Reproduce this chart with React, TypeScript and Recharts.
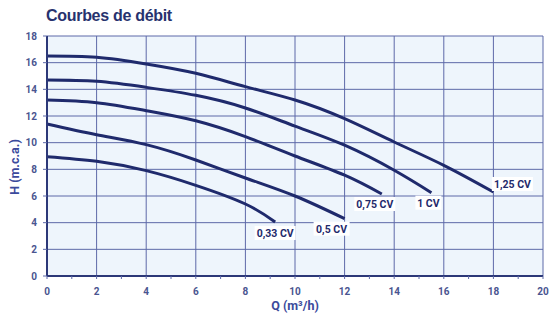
import {
  CartesianGrid,
  Line,
  LineChart,
  ReferenceLine,
  XAxis,
  YAxis,
} from "recharts";

// pump flow curves: Q (m3/h) -> H (m.c.a.)
const Q_033 = [0, 2, 4, 6, 8, 9.2];
const H_033 = [8.95, 8.6, 7.9, 6.8, 5.4, 4.05];
const Q_05 = [0, 2, 4, 6, 8, 10, 12];
const H_05 = [11.4, 10.6, 9.85, 8.7, 7.35, 6.0, 4.3];
const Q_075 = [0, 2, 4, 6, 8, 10, 12, 13.5];
const H_075 = [13.2, 13.0, 12.4, 11.64, 10.45, 9.0, 7.56, 6.15];
const Q_1 = [0, 2, 4, 6, 8, 10, 12, 14, 15.5];
const H_1 = [14.7, 14.6, 14.15, 13.55, 12.6, 11.24, 9.81, 7.93, 6.25];
const Q_125 = [0, 2, 4, 6, 8, 10, 12, 14, 16, 18];
const H_125 = [16.5, 16.4, 15.9, 15.2, 14.2, 13.2, 11.8, 10.05, 8.3, 6.3];

const SERIES_NAMES = ["0,33 CV", "0,5 CV", "0,75 CV", "1 CV", "1,25 CV"];
const Q_TICKS = [0, 1, 2, 3, 4, 5, 6, 7, 8, 9, 10, 11, 12, 13, 14, 15, 16, 17, 18, 19, 20];
const Q_GRID = [2, 4, 6, 8, 10, 12, 14, 16, 18, 20];
const H_TICKS = [0, 2, 4, 6, 8, 10, 12, 14, 16, 18];

// end-label offsets (px) from the last point of each curve
const LABEL_OFFSETS: [number, number][] = [
  [0, 11],
  [-13, 10],
  [-7, 10],
  [-3, 10],
  [19, -8],
];

const toRows = (q: number[], h: number[]) => q.map((v, i) => ({ q: v, h: h[i] }));
const SERIES = [
  toRows(Q_033, H_033),
  toRows(Q_05, H_05),
  toRows(Q_075, H_075),
  toRows(Q_1, H_1),
  toRows(Q_125, H_125),
];

const NAVY = "#1f2a6c";
const GRID = "#5d69a8";
const TICK_COLOR = "#4a5590";
const FONT = "Roboto, 'Liberation Sans', sans-serif";

function XTick(props: any) {
  const { x, y, payload } = props;
  const v = payload.value as number;
  return (
    <g>
      <line x1={x} x2={x} y1={y} y2={y + 3} stroke={GRID} strokeWidth={1} />
      {v % 2 === 0 && (
        <text
          x={x}
          y={y + 19}
          textAnchor="middle"
          fill={TICK_COLOR}
          fontSize={10}
          fontWeight="bold"
          fontFamily={FONT}
        >
          {v}
        </text>
      )}
    </g>
  );
}

function endLabel(idx: number, count: number) {
  return (props: any) => {
    if (props.index !== count - 1) return <g />;
    const [dx, dy] = LABEL_OFFSETS[idx];
    const name = SERIES_NAMES[idx];
    const cx = props.x + dx;
    const cy = props.y + dy;
    const w = name.length * 5 + 6;
    return (
      <g>
        <rect x={cx - w / 2} y={cy - 7} width={w} height={14} fill="#ffffff" />
        <text
          x={cx}
          y={cy + 4}
          textAnchor="middle"
          fill={NAVY}
          fontSize={10.5}
          fontWeight="bold"
          fontFamily={FONT}
        >
          {name}
        </text>
      </g>
    );
  };
}

export default function App() {
  return (
    <div
      style={{
        position: "absolute",
        left: 0,
        top: 0,
        width: 560,
        height: 322,
        background: "#ffffff",
        fontFamily: FONT,
      }}
    >
      <div
        style={{
          position: "absolute",
          left: 46,
          top: 7,
          fontSize: 16,
          color: "#27326e",
          fontFamily: "'Liberation Sans', Arial, sans-serif",
          fontWeight: "bold",
          letterSpacing: -0.3,
        }}
      >
        Courbes de débit
      </div>
      <LineChart
        width={560}
        height={322}
        margin={{ top: 36, right: 17, bottom: 0, left: 5 }}
      >
        <CartesianGrid
          vertical={false}
          stroke={GRID}
          strokeWidth={1}
          fill="#eef5fc"
          fillOpacity={1}
        />
        {Q_GRID.map((v) => (
          <ReferenceLine key={v} x={v} stroke={GRID} strokeWidth={1} />
        ))}
        <XAxis
          type="number"
          dataKey="q"
          domain={[0, 20]}
          ticks={Q_TICKS}
          interval={0}
          height={46}
          tickSize={0}
          tickMargin={0}
          tickLine={false}
          axisLine={{ stroke: "#2c3878", strokeWidth: 2 }}
          tick={<XTick />}
          label={{
            content: ({ viewBox }: any) => (
              <text
                x={viewBox.x + viewBox.width / 2}
                y={viewBox.y + 34}
                textAnchor="middle"
                fill="#3b4a9c"
                fontSize={12.5}
                fontWeight="bold"
                fontFamily={FONT}
              >
                Q (m³/h)
              </text>
            ),
          }}
        />
        <YAxis
          type="number"
          domain={[0, 18]}
          ticks={H_TICKS}
          interval={0}
          width={42}
          tickSize={4}
          tickMargin={6}
          tickLine={{ stroke: GRID }}
          axisLine={{ stroke: "#2c3878", strokeWidth: 2 }}
          tick={{ fill: TICK_COLOR, fontSize: 10, fontWeight: "bold", fontFamily: FONT }}
          label={{
            content: ({ viewBox }: any) => {
              const cx = 14;
              const cy = viewBox.y + viewBox.height / 2 + 11;
              return (
                <text
                  x={cx}
                  y={cy}
                  transform={`rotate(-90 ${cx} ${cy})`}
                  textAnchor="middle"
                  dominantBaseline="central"
                  fill="#3b4a9c"
                  fontSize={12.5}
                  fontWeight="bold"
                  fontFamily={FONT}
                >
                  H (m.c.a.)
                </text>
              );
            },
          }}
        />
        {SERIES.map((rows, i) => (
          <Line
            key={SERIES_NAMES[i]}
            data={rows}
            dataKey="h"
            type="natural"
            stroke={NAVY}
            strokeWidth={3}
            dot={false}
            activeDot={false}
            isAnimationActive={false}
            label={endLabel(i, rows.length)}
          />
        ))}
      </LineChart>
    </div>
  );
}
